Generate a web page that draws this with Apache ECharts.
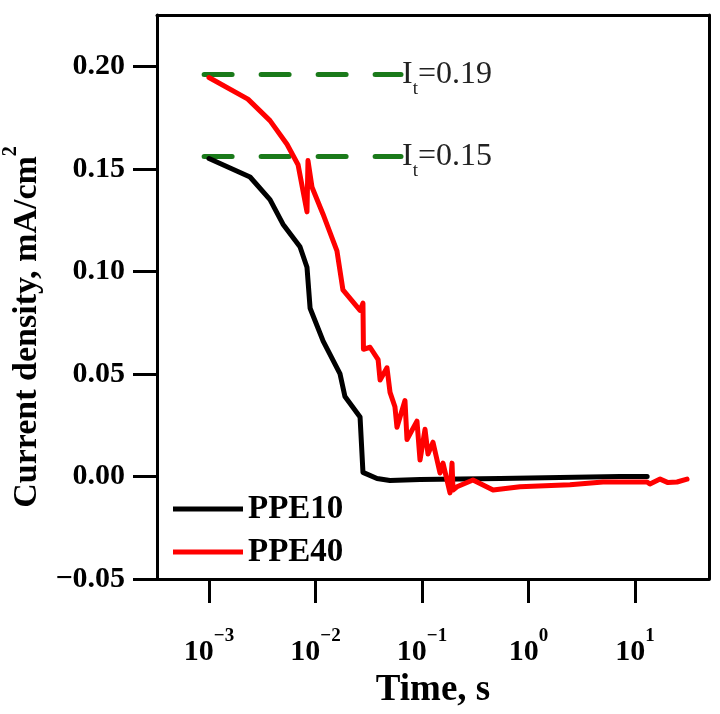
<!DOCTYPE html>
<html>
<head>
<meta charset="utf-8">
<script src="https://cdn.jsdelivr.net/npm/echarts@6/dist/echarts.min.js"></script>
<style>html,body{margin:0;padding:0;background:#fff}#c{width:720px;height:714px}</style>
</head>
<body>
<div id="c"></div>
<script>
// ---- data (time in s, current density in mA/cm^2) ----
const ppe10Time  = [0.001, 0.00243, 0.00374, 0.00495, 0.00715, 0.00832, 0.0089, 0.0118, 0.017, 0.0189, 0.0262, 0.0279, 0.0378, 0.050, 0.096, 0.54, 7.2, 13];
const ppe10Value = [0.155, 0.146, 0.135, 0.123, 0.112, 0.102, 0.082, 0.066, 0.050, 0.039, 0.029, 0.002, -0.001, -0.002, -0.0015, -0.001, 0.0, 0.0];

const ppe40Time  = [0.001, 0.00232, 0.00374, 0.0054, 0.00686, 0.00832, 0.0085, 0.00928, 0.01175, 0.0159, 0.0181, 0.0262, 0.0279, 0.0282, 0.0325, 0.0387, 0.0404, 0.0469, 0.0501, 0.0557, 0.0582, 0.0692, 0.0723, 0.0897, 0.0958, 0.1067, 0.1138, 0.1268, 0.1476, 0.1574, 0.1832, 0.1914, 0.1955, 0.213, 0.301, 0.465, 0.832, 2.45, 5.01, 12.97, 13.8, 17.2, 20.4, 24.8, 30.8];
const ppe40Value = [0.1945, 0.184, 0.1735, 0.162, 0.152, 0.129, 0.154, 0.141, 0.128, 0.110, 0.091, 0.081, 0.0845, 0.062, 0.063, 0.057, 0.047, 0.053, 0.041, 0.034, 0.024, 0.037, 0.018, 0.027, 0.008, 0.023, 0.011, 0.0167, 0.0017, 0.0065, -0.008, 0.0065, -0.0066, -0.005, -0.0017, -0.0066, -0.005, -0.004, -0.0027, -0.0027, -0.0037, -0.0013, -0.003, -0.0027, -0.0013];

const thresholdTime = [0.0009, 0.0635];
const threshold19 = [0.196, 0.196];
const threshold15 = [0.156, 0.156];
const thresholdLabels = ['0.19', '0.15'];

const xTicks = [0.001, 0.01, 0.1, 1, 10];
const yTicks = [-0.05, 0, 0.05, 0.10, 0.15, 0.20];

const seriesNames = ['PPE10', 'PPE40'];

function pairs(xs, ys) { return xs.map((x, i) => [x, ys[i]]); }

const serif = '"Liberation Serif", "DejaVu Serif", serif';
const chart = echarts.init(document.getElementById('c'), null, {renderer: 'canvas'});

const mainLine = (name, color, xs, ys) => ({
  name, type: 'line', data: pairs(xs, ys), symbol: 'none', z: 3,
  lineStyle: {color, width: 5, cap: 'round', join: 'round'},
  itemStyle: {color}
});

const threshLine = (ys, label) => ({
  type: 'line', data: pairs(thresholdTime, ys), symbol: 'none', z: 2, silent: true,
  lineStyle: {color: '#1a7a1a', width: 5, type: [28, 29], cap: 'round'},
  endLabel: {
    show: true, distance: 1,
    formatter: () => '{i|I}{sub|t}{n|=' + label + '}',
    rich: {
      i: {fontFamily: serif, fontSize: 32, color: '#222', lineHeight: 44, verticalAlign: 'middle'},
      sub: {fontFamily: serif, fontSize: 19, color: '#222', lineHeight: 48, verticalAlign: 'bottom'},
      n: {fontFamily: serif, fontSize: 32, color: '#222', lineHeight: 44, verticalAlign: 'middle'}
    }
  }
});

const axisLineStyle = {show: true, onZero: false, lineStyle: {color: '#000', width: 3}};

chart.setOption({
  animation: false,
  backgroundColor: '#fff',
  grid: {left: 157, right: 11, top: 15, bottom: 135, containLabel: false, outerBoundsMode: 'none'},
  legend: {
    data: seriesNames, orient: 'vertical', left: 168, top: 486,
    icon: 'rect', itemWidth: 70, itemHeight: 5, itemGap: 7,
    textStyle: {fontFamily: serif, fontWeight: 'bold', fontSize: 33, color: '#000', lineHeight: 36}
  },
  xAxis: [{
    type: 'log', logBase: 10, min: 0.000325, max: 49.5,
    splitLine: {show: false},
    axisLine: axisLineStyle,
    axisTick: {show: true, inside: false, length: 24, lineStyle: {width: 3, color: '#000'}, customValues: xTicks},
    axisLabel: {
      customValues: xTicks, margin: 48,
      formatter: v => { const e = Math.round(Math.log10(v)); return '{b|10}{s|' + (e < 0 ? '\u2212' + (-e) : e) + '}'; },
      rich: {
        b: {fontFamily: serif, fontWeight: 'bold', fontSize: 30, color: '#000', lineHeight: 40, verticalAlign: 'bottom'},
        s: {fontFamily: serif, fontWeight: 'bold', fontSize: 19, color: '#000', lineHeight: 40, verticalAlign: 'top'}
      }
    },
    name: 'Time, s', nameLocation: 'middle', nameGap: 92,
    nameTextStyle: {fontFamily: serif, fontWeight: 'bold', fontSize: 37, color: '#000'}
  }, {
    type: 'log', position: 'top', min: 0.000325, max: 49.5,
    axisLine: axisLineStyle, axisTick: {show: false}, axisLabel: {show: false}, splitLine: {show: false}
  }],
  yAxis: [{
    type: 'value', min: -0.05, max: 0.225,
    splitLine: {show: false},
    axisLine: axisLineStyle,
    axisTick: {show: true, inside: false, length: 24, lineStyle: {width: 3, color: '#000'}, customValues: yTicks},
    axisLabel: {
      customValues: yTicks, margin: 32,
      formatter: v => (v < 0 ? '\u2212' : '') + Math.abs(v).toFixed(2),
      fontFamily: serif, fontWeight: 'bold', fontSize: 30, color: '#000'
    },
    name: '{t|Current density, mA/cm}{s|2}', nameLocation: 'middle', nameGap: 104,
    nameTextStyle: {
      padding: [0, 60, 0, 0],
      rich: {
        t: {fontFamily: serif, fontWeight: 'bold', fontSize: 34, color: '#000', lineHeight: 44, verticalAlign: 'bottom'},
        s: {fontFamily: serif, fontWeight: 'bold', fontSize: 20, color: '#000', lineHeight: 44, verticalAlign: 'top'}
      }
    }
  }, {
    type: 'value', position: 'right', min: -0.05, max: 0.225,
    axisLine: axisLineStyle, axisTick: {show: false}, axisLabel: {show: false}, splitLine: {show: false}
  }],
  series: [
    threshLine(threshold19, thresholdLabels[0]),
    threshLine(threshold15, thresholdLabels[1]),
    mainLine(seriesNames[0], '#000', ppe10Time, ppe10Value),
    mainLine(seriesNames[1], '#ff0000', ppe40Time, ppe40Value)
  ]
});
</script>
</body>
</html>
